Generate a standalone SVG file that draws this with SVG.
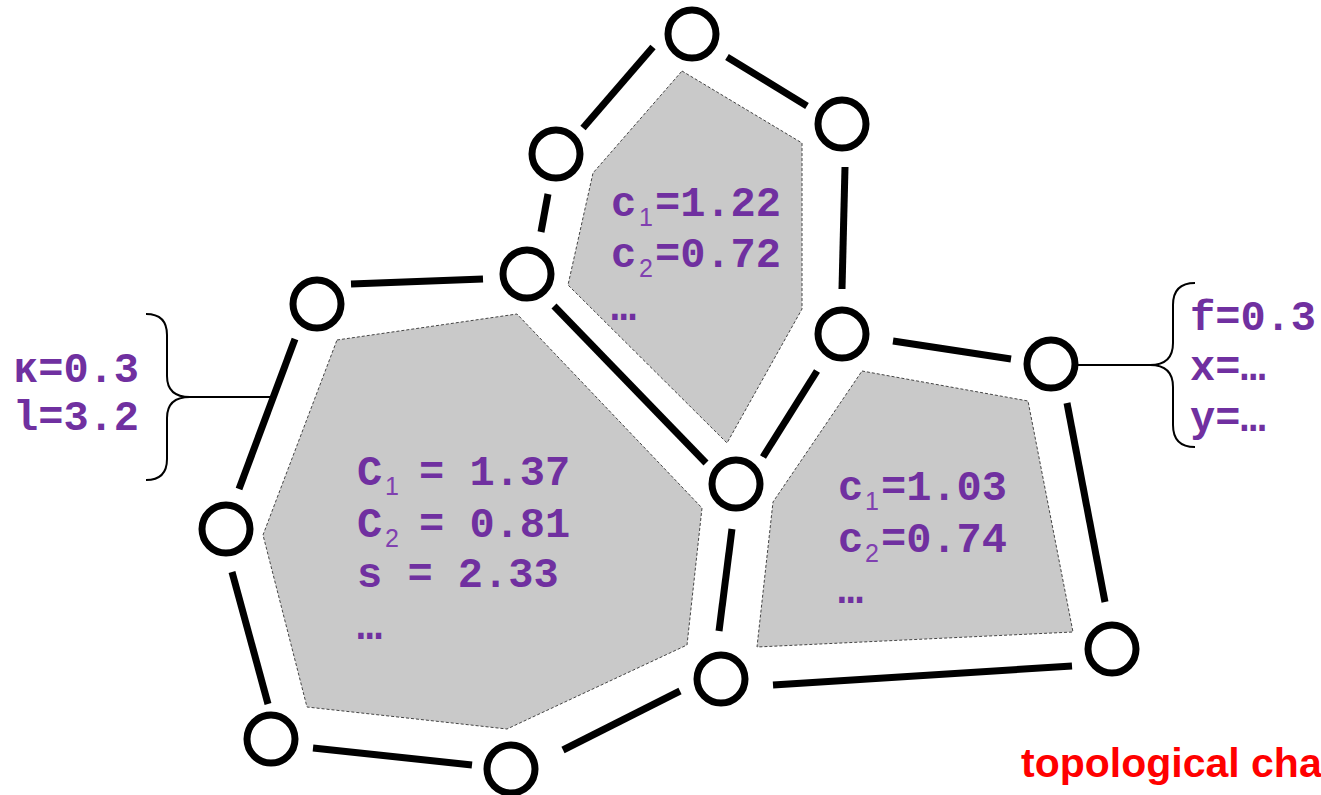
<svg xmlns="http://www.w3.org/2000/svg" width="1321" height="795" viewBox="0 0 1321 795">
<style>
.cell{fill:#C9C9C9;stroke:#444;stroke-width:1;stroke-dasharray:3 2}
.edge{stroke:#000;stroke-width:7;stroke-linecap:butt;fill:none}
.node{fill:#fff;stroke:#000;stroke-width:7}
.brace{fill:none;stroke:#000;stroke-width:2}
.lbl{font-family:"Liberation Mono","Courier New",monospace;font-weight:bold;font-size:42px;fill:#7030A0}
.sub{font-family:"Liberation Sans",Arial,sans-serif;font-weight:normal;font-size:25px;fill:#8040B0}
.red{font-family:"Liberation Sans",Arial,sans-serif;font-weight:bold;font-size:41px;fill:#FF0000}
</style>
<rect width="1321" height="795" fill="#fff"/>
<g id="cells">
<polygon id="cell-top" class="cell" points="682,71 802,143 802,309 727,443 568,285 593,173"/>
<polygon id="cell-big" class="cell" points="337,340 517,314 702,508 687,645 507,729 307,707 263,535"/>
<polygon id="cell-right" class="cell" points="862,371 1028,401 1073,632 757,647 773,502"/>
</g>
<g id="connectors">
<line class="edge" x1="653" y1="47" x2="583" y2="128"/>
<line class="edge" x1="727" y1="57" x2="807" y2="106"/>
<line class="edge" x1="845" y1="167" x2="842" y2="289"/>
<line class="edge" x1="548" y1="194" x2="541" y2="232"/>
<line class="edge" x1="351" y1="284" x2="483" y2="279"/>
<line class="edge" x1="295" y1="339" x2="239" y2="489"/>
<line class="edge" x1="554" y1="306" x2="706" y2="463"/>
<line class="edge" x1="817" y1="371" x2="763" y2="457"/>
<line class="edge" x1="893" y1="341" x2="1011" y2="359"/>
<line class="edge" x1="1067" y1="403" x2="1105" y2="602"/>
<line class="edge" x1="732" y1="529" x2="719" y2="631"/>
<line class="edge" x1="773" y1="685" x2="1072" y2="666"/>
<line class="edge" x1="563" y1="750" x2="680" y2="691"/>
<line class="edge" x1="313" y1="748" x2="472" y2="765"/>
<line class="edge" x1="232" y1="572" x2="268" y2="704"/>
</g>
<g id="nodes">
<g id="n1"><circle class="node" cx="692" cy="34" r="24"/></g>
<g id="n2"><circle class="node" cx="842" cy="124" r="24"/></g>
<g id="n3"><circle class="node" cx="556" cy="154" r="24"/></g>
<g id="n4"><circle class="node" cx="527" cy="274" r="24"/></g>
<g id="n5"><circle class="node" cx="317" cy="304" r="24"/></g>
<g id="n6"><circle class="node" cx="842" cy="334" r="24"/></g>
<g id="n7"><circle class="node" cx="1051" cy="364" r="24"/></g>
<g id="n8"><circle class="node" cx="736" cy="484" r="24"/></g>
<g id="n9"><circle class="node" cx="226" cy="529" r="24"/></g>
<g id="n10"><circle class="node" cx="721" cy="679" r="24"/></g>
<g id="n11"><circle class="node" cx="1112" cy="649" r="24"/></g>
<g id="n12"><circle class="node" cx="271" cy="739" r="24"/></g>
<g id="n13"><circle class="node" cx="511" cy="769" r="24"/></g>
</g>
<g id="edge-annotation">
<path class="brace" d="M146,314 Q167,314 167,335 L167,376 Q167,397 190,397 Q167,397 167,418 L167,459 Q167,480 146,480"/>
<line x1="190" y1="397" x2="270" y2="397" stroke="#000" stroke-width="2"/>
<text class="lbl" x="13" y="382">κ=0.3</text>
<text class="lbl" x="13" y="430">l=3.2</text>
</g>
<g id="node-annotation">
<path class="brace" d="M1195,283 Q1173,283 1173,305 L1173,343 Q1173,365 1150,365 Q1173,365 1173,387 L1173,425 Q1173,447 1195,447"/>
<line x1="1078" y1="365" x2="1150" y2="365" stroke="#000" stroke-width="2"/>
<text class="lbl" x="1190" y="330">f=0.3</text>
<text class="lbl" x="1190" y="380">x=…</text>
<text class="lbl" x="1190" y="431">y=…</text>
</g>
<g id="cell-top-label">
<text class="lbl" x="611" y="216">c<tspan class="sub" x="639" dy="10">1</tspan><tspan x="655" dy="-10">=1.22</tspan></text>
<text class="lbl" x="611" y="267">c<tspan class="sub" x="639" dy="10">2</tspan><tspan x="655" dy="-10">=0.72</tspan></text>
<text class="lbl" x="611" y="320">…</text>
</g>
<g id="cell-big-label">
<text class="lbl" x="357" y="485">C<tspan class="sub" x="385" dy="10">1</tspan><tspan x="419" dy="-10">= 1.37</tspan></text>
<text class="lbl" x="357" y="537">C<tspan class="sub" x="385" dy="10">2</tspan><tspan x="419" dy="-10">= 0.81</tspan></text>
<text class="lbl" x="357" y="587">s = 2.33</text>
<text class="lbl" x="357" y="639">…</text>
</g>
<g id="cell-right-label">
<text class="lbl" x="838" y="500">c<tspan class="sub" x="865" dy="10">1</tspan><tspan x="881" dy="-10">=1.03</tspan></text>
<text class="lbl" x="838" y="552">c<tspan class="sub" x="865" dy="10">2</tspan><tspan x="881" dy="-10">=0.74</tspan></text>
<text class="lbl" x="838" y="603">…</text>
</g>
<text class="red" x="1021" y="777">topological cha</text>
</svg>
